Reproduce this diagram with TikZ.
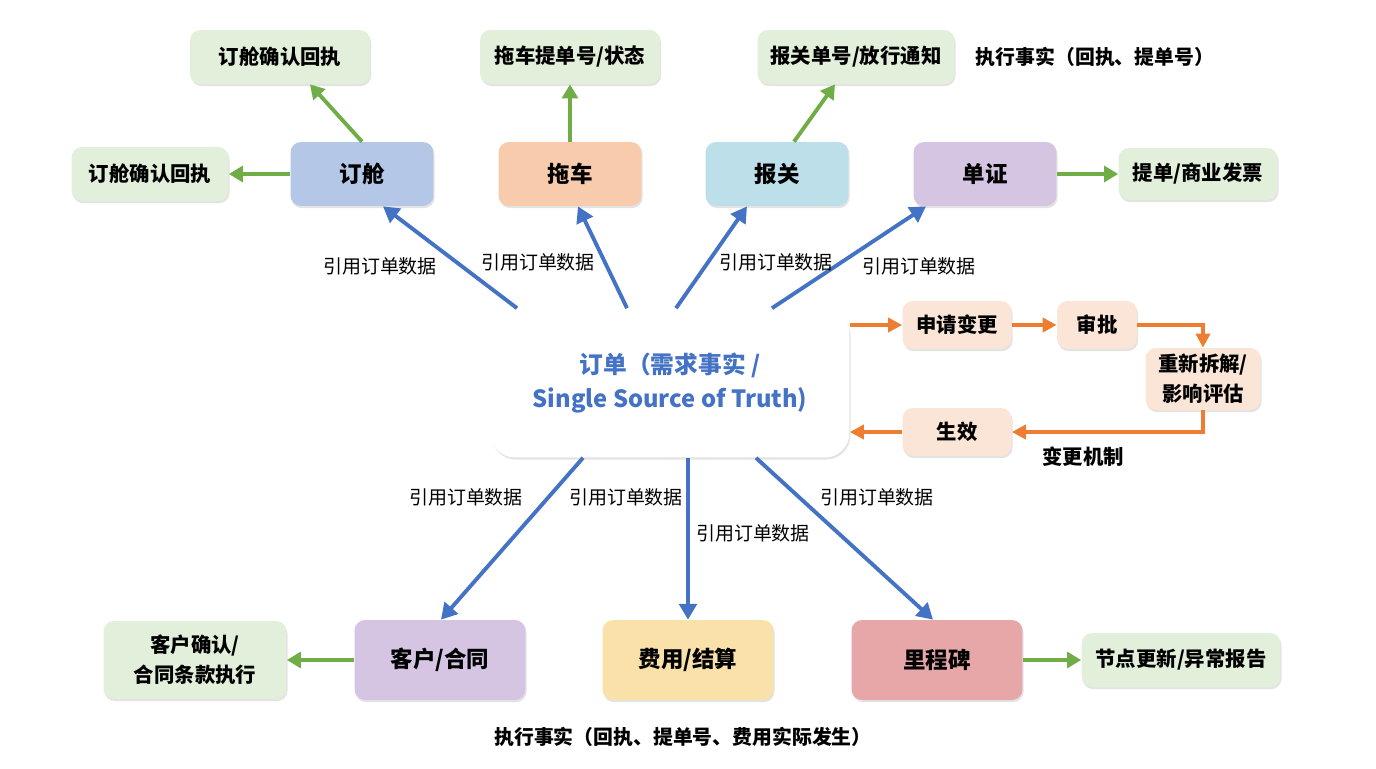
\documentclass[tikz,border=0pt]{standalone}
\usepackage{fontspec}
\setmainfont{Noto Sans CJK SC}
\usetikzlibrary{arrows.meta,shadows,calc}

\definecolor{refblue}{HTML}{4472C4}
\definecolor{resgreen}{HTML}{70AD47}
\definecolor{resfill}{HTML}{E2EFDA}
\definecolor{chgorange}{HTML}{ED7D31}
\definecolor{chgfill}{HTML}{FBE5D6}
\definecolor{bookblue}{HTML}{B4C7E7}
\definecolor{tugorange}{HTML}{F8CBAD}
\definecolor{custblue}{HTML}{BCDFEA}
\definecolor{docpurple}{HTML}{D5C5E3}
\definecolor{feeyellow}{HTML}{F9E1A9}
\definecolor{milepink}{HTML}{E7A6A8}

\tikzset{
  box/.style={rounded corners=6pt, align=center, inner sep=0pt,
    drop shadow={shadow xshift=0.6pt, shadow yshift=-1.2pt, opacity=0.22}},
  topic/.style={box, minimum width=2.86cm, minimum height=1.28cm,
    font=\fontsize{12.8}{15}\selectfont\bfseries},
  bigtopic/.style={topic, minimum width=3.42cm, minimum height=1.6cm},
  result/.style={box, fill=resfill, minimum height=1.08cm,
    font=\fontsize{11.6}{17}\selectfont\bfseries},
  flowbox/.style={box, fill=chgfill, minimum height=0.96cm,
    font=\fontsize{11.6}{17}\selectfont\bfseries},
  lbl/.style={font=\fontsize{10.8}{12}\selectfont},
  note/.style={font=\fontsize{11.3}{14}\selectfont\bfseries},
  refarrow/.style={draw=refblue, line width=2.2pt, -{Triangle[length=9pt,width=10pt]}},
  resarrow/.style={draw=resgreen, line width=2.2pt, -{Triangle[length=8pt,width=9pt]}},
  chgarrow/.style={draw=chgorange, line width=2pt, -{Triangle[length=8pt,width=8pt]}}
}

\begin{document}
\begin{tikzpicture}[x=0.02cm,y=-0.02cm]
	\fill [white!97!black!2] (0,0) rectangle (1376,768);
	\useasboundingbox (0,0) rectangle (1376,768);

	% order in the middle
	\node [box, fill=white, minimum width=7.18cm, minimum height=2.98cm, rounded corners=14pt,
	       text=refblue, font=\fontsize{13.5}{19.5}\selectfont\bfseries] (order) at (670,383)
	       {订单（需求事实 /\\Single Source of Truth)};

	% upper tasks
	\node [topic, fill=bookblue]  (booking) at (362,174) {订舱};
	\node [topic, fill=tugorange] (truck)   at (570,174) {拖车};
	\node [topic, fill=custblue]  (customs) at (777,174) {报关};
	\node [topic, fill=docpurple] (docs)    at (985,174) {单证};

	\node [result, minimum width=3.6cm]  (bookack)    at (280,57)  {订舱确认回执};
	\node [result, minimum width=3.14cm] (bookack2)   at (150,174) {订舱确认回执};
	\node [result, minimum width=3.6cm]  (truckres)   at (570,57)  {拖车提单号/状态};
	\node [result, minimum width=3.94cm] (customsres) at (856,57)  {报关单号/放行通知};
	\node [result, minimum width=3.18cm, minimum height=1.04cm] (docsres) at (1198,174) {提单/商业发票};
	\node [note] (factstop) at (1095,57) {执行事实（回执、提单号）};

	% lower tasks
	\node [bigtopic, fill=docpurple] (client)    at (440,660) {客户/合同};
	\node [bigtopic, fill=feeyellow] (fees)      at (688,660) {费用/结算};
	\node [bigtopic, fill=milepink]  (milestone) at (937,660) {里程碑};

	\node [result, minimum width=3.66cm, minimum height=1.56cm] (clientres) at (195,660) {客户确认/\\合同条款执行};
	\node [result, minimum width=3.98cm] (mileres) at (1181,660) {节点更新/异常报告};
	\node [note] (factsbot) at (683,737) {执行事实（回执、提单号、费用实际发生）};

	% change loop
	\node [flowbox, minimum width=2.18cm] (apply)   at (957,325)  {申请变更};
	\node [flowbox, minimum width=1.6cm]  (approve) at (1097,325) {审批};
	\node [flowbox, minimum width=2.3cm, minimum height=1.24cm] (rework) at (1203,379) {重新拆解/\\影响评估};
	\node [flowbox, minimum width=2.18cm] (effect)  at (957,432)  {生效};
	\node [note, font=\fontsize{11.6}{14}\selectfont\bfseries] (changelbl) at (1083,457) {变更机制};

	% references from the order
	\draw [refarrow] ($(order.north)+(-153,0)$) -- ($(booking.south)+(21,0)$);
	\draw [refarrow] ($(order.north)+(-43,0)$) -- ($(truck.south)+(8,0)$);
	\draw [refarrow] ($(order.north)+(6,0)$) -- ($(customs.south)+(-30,0)$);
	\draw [refarrow] ($(order.north)+(102,0)$) -- ($(docs.south)+(-59,0)$);
	\draw [refarrow] ($(order.south)+(-87,0)$) -- ($(client.north)+(1,0)$);
	\draw [refarrow] ($(order.south)+(18,0)$) -- (fees.north);
	\draw [refarrow] ($(order.south)+(86,0)$) -- ($(milestone.north)+(-4,0)$);

	\node [lbl] (ref1) at (380,266) {引用订单数据};
	\node [lbl] (ref2) at (538,262) {引用订单数据};
	\node [lbl] (ref3) at (776,262) {引用订单数据};
	\node [lbl] (ref4) at (919,266) {引用订单数据};
	\node [lbl] (ref5) at (466,497) {引用订单数据};
	\node [lbl] (ref6) at (626,497) {引用订单数据};
	\node [lbl] (ref7) at (753,533) {引用订单数据};
	\node [lbl] (ref8) at (877,497) {引用订单数据};

	% results of the tasks
	\draw [resarrow] (booking.north) -- ($(bookack.south)+(30,0)$);
	\draw [resarrow] (booking.west) -- (bookack2.east);
	\draw [resarrow] (truck.north) -- (truckres.south);
	\draw [resarrow] ($(customs.north)+(17,0)$) -- ($(customsres.south)+(-21,0)$);
	\draw [resarrow] (docs.east) -- (docsres.west);
	\draw [resarrow] (client.west) -- (clientres.east);
	\draw [resarrow] (milestone.east) -- (mileres.west);

	% change loop arrows
	\draw [chgarrow] (order.east |- apply.west) -- (apply.west);
	\draw [chgarrow] (apply.east) -- (approve.west);
	\draw [chgarrow] (approve.east) -| (rework.north);
	\draw [chgarrow] (rework.south) |- (effect.east);
	\draw [chgarrow] (effect.west) -- (order.east |- effect.west);
\end{tikzpicture}
\end{document}
